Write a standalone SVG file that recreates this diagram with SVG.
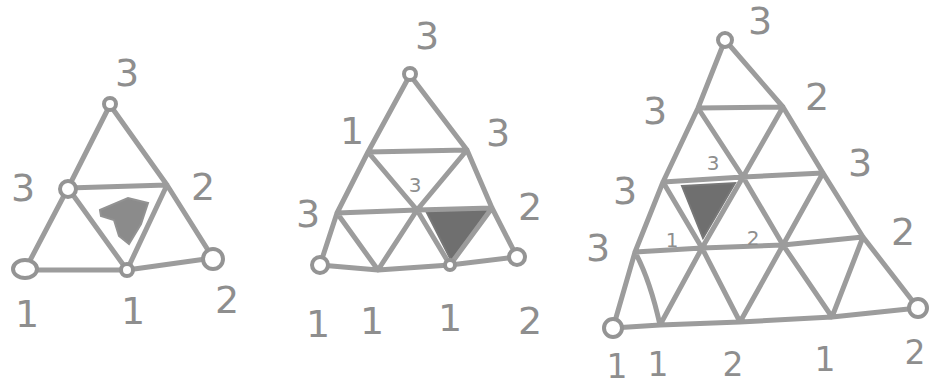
<svg xmlns="http://www.w3.org/2000/svg" width="937" height="386" viewBox="0 0 937 386">
<style>
.e{fill:none;stroke:#9c9c9c;stroke-width:5;stroke-linecap:round;stroke-linejoin:round}
.c{fill:#fff;stroke:#949494;stroke-width:4}
.s{fill:#6f6f6f;stroke:#777;stroke-width:2}
.L{font-family:"DejaVu Sans",sans-serif;font-size:38px;fill:#8e8e8e;text-anchor:middle}
.b{font-family:"DejaVu Sans",sans-serif;font-size:33px;fill:#8e8e8e;text-anchor:middle}
.m{font-family:"DejaVu Sans",sans-serif;font-size:20px;fill:#8e8e8e;text-anchor:middle}
</style>
<rect width="937" height="386" fill="#fff"/>
<g id="shading">
<polygon class="s" points="100,210 128,198 148,203 141,224 129,244 119,236 114,220 101,216" opacity="0.8"/>
<polygon class="s" points="426,211 489,209 452,262"/>
<polygon class="s" points="682,186 735,183 703,238"/>
</g>
<g id="connectors">
<path class="e" d="M110,105 L68,188 L25,270 M110,105 L167,185 L213,258 M25,270 L127,270 L213,258 M68,188 L167,185 M68,188 L127,270 L167,185"/>
<path class="e" d="M410,75 L368,152 L337,213 L320,265 M410,75 L467,150 L492,208 L517,257 M320,265 L378,270 L450,265 L517,257 M368,152 L467,150 M337,213 L417,210 L492,208 M467,150 L417,210 L378,270 M492,208 L450,265 M368,152 L417,210 L450,265 M337,213 L378,270"/>
<path class="e" d="M725,40 L698,108 L663,182 L635,252 L613,328 M725,40 L783,107 L823,173 L863,237 L918,308 M613,328 L660,325 L740,322 L832,317 L918,308 M698,108 L783,107 M663,182 L743,177 L823,173 M635,252 L702,248 L783,245 L863,237 M783,107 L743,177 L702,248 L660,325 M823,173 L783,245 L740,322 M863,237 L832,317 M698,108 L743,177 L783,245 L832,317 M663,182 L702,248 L740,322 M635,252 Q650,280 660,325"/>
</g>
<g id="triangle1">
<circle class="c" cx="110" cy="104" r="6"/>
<circle class="c" cx="68" cy="189" r="8"/>
<ellipse class="c" cx="25" cy="269" rx="12" ry="9"/>
<circle class="c" cx="127" cy="270" r="6"/>
<circle class="c" cx="213" cy="259" r="10"/>
<text class="L" x="127" y="86">3</text>
<text class="L" x="23" y="201">3</text>
<text class="L" x="203" y="200">2</text>
<text class="L" x="27" y="327">1</text>
<text class="L" x="133" y="324">1</text>
<text class="L" x="227" y="313">2</text>
</g>
<g id="triangle2">
<circle class="c" cx="410" cy="74" r="6"/>
<circle class="c" cx="320" cy="265" r="8"/>
<circle class="c" cx="450" cy="265" r="5"/>
<circle class="c" cx="517" cy="257" r="8"/>
<text class="L" x="427" y="49">3</text>
<text class="L" x="352" y="144">1</text>
<text class="L" x="498" y="146">3</text>
<text class="L" x="308" y="227">3</text>
<text class="m" x="415" y="192">3</text>
<text class="L" x="530" y="220">2</text>
<text class="L" x="318" y="337">1</text>
<text class="L" x="372" y="334">1</text>
<text class="L" x="450" y="331">1</text>
<text class="L" x="530" y="334">2</text>
</g>
<g id="triangle3">
<circle class="c" cx="725" cy="40" r="7"/>
<circle class="c" cx="613" cy="328" r="9"/>
<circle class="c" cx="918" cy="308" r="9"/>
<text class="L" x="760" y="34" font-size="28">3</text>
<text class="L" x="655" y="124">3</text>
<text class="L" x="817" y="110">2</text>
<text class="L" x="625" y="204">3</text>
<text class="m" x="713" y="170">3</text>
<text class="L" x="860" y="176">3</text>
<text class="L" x="598" y="261">3</text>
<text class="L" x="903" y="245">2</text>
<text class="m" x="672" y="247">1</text>
<text class="m" x="753" y="245">2</text>
<text class="b" x="617" y="378">1</text>
<text class="b" x="658" y="376">1</text>
<text class="b" x="733" y="376">2</text>
<text class="b" x="825" y="371">1</text>
<text class="b" x="915" y="364">2</text>
</g>
</svg>
